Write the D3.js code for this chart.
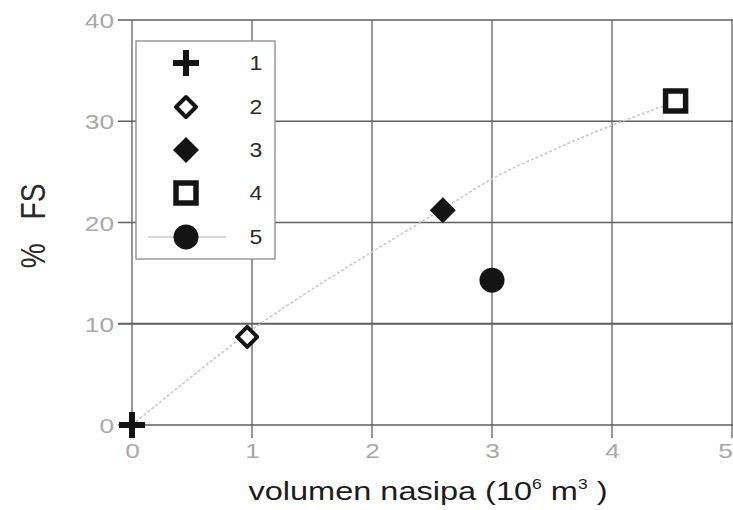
<!DOCTYPE html>
<html>
<head>
<meta charset="utf-8">
<script src="https://cdn.jsdelivr.net/npm/d3@7/dist/d3.min.js"></script>
<style>
  html, body { margin: 0; padding: 0; background: #fff; }
  svg { display: block; font-family: "Liberation Sans", Arial, sans-serif; }
</style>
</head>
<body>
<svg id="chart" width="733" height="510"></svg>
<script>
// Measured points: embankment volume (10^6 m3) vs. % FS
const seriesIds = ["1", "2", "3", "4", "5"];
const volumes   = [0, 0.96, 2.59, 4.53, 3.0];
const fsPercent = [0, 8.7, 21.2, 32.0, 14.3];
const symbolKinds = ["plus", "diamondOpen", "diamondFilled", "squareOpen", "circle"];

// Trend curve through the points
const trendX = [0, 0.5, 1, 1.5, 2, 2.6, 3, 3.5, 4, 4.5];
const trendY = [0, 4.8, 9.4, 13.4, 17.1, 21.4, 24.3, 27.1, 29.6, 31.8];

const xTicks = [0, 1, 2, 3, 4, 5];
const yTicks = [0, 10, 20, 30, 40];

const svg = d3.select("#chart");
const x = d3.scaleLinear().domain([0, 5]).range([132, 732]);
const y = d3.scaleLinear().domain([0, 40]).range([425, 20]);

const gridColor = "#5f5f5f";
const tickColor = "#a8a8a8";
const ink = "#141414";
const wide = 1.25;   // horizontal stretch of the lettering

// Grid
const grid = svg.append("g");
grid.selectAll("line.h").data(yTicks).join("line")
  .attr("x1", x(0) - 14).attr("x2", 733)
  .attr("y1", d => y(d)).attr("y2", d => y(d))
  .attr("stroke", gridColor).attr("stroke-width", d => d === 10 ? 1.8 : 1.3);
grid.selectAll("line.v").data(xTicks).join("line")
  .attr("x1", d => x(d)).attr("x2", d => x(d))
  .attr("y1", y(40)).attr("y2", y(0) + 13)
  .attr("stroke", gridColor).attr("stroke-width", 1.3);

// Axes (labels only, lines come from the grid)
const yAxis = d3.axisLeft(y).tickValues(yTicks).tickSize(0).tickPadding(18)
  .tickFormat(d3.format("d"));
svg.append("g").attr("transform", `translate(${x(0)},0)`).call(yAxis)
  .call(g => g.select(".domain").remove())
  .call(g => g.selectAll("text").attr("fill", tickColor).attr("font-size", 21)
    .attr("font-family", "Liberation Sans, Arial, sans-serif").attr("dy", "0.36em")
    .attr("x", -18 / wide).attr("transform", `scale(${wide},1)`));

const xAxis = d3.axisBottom(x).tickValues(xTicks).tickSize(0).tickPadding(18)
  .tickFormat(d3.format("d"));
svg.append("g").attr("transform", `translate(0,${y(0)})`).call(xAxis)
  .call(g => g.select(".domain").remove())
  .call(g => g.selectAll("text").attr("fill", tickColor).attr("font-size", 21)
    .attr("font-family", "Liberation Sans, Arial, sans-serif")
    .attr("transform", `scale(${wide},1)`)
    .attr("x", d => d === 5 ? -7 / wide : 0));

// Trend line
const line = d3.line().x(d => x(d[0])).y(d => y(d[1])).curve(d3.curveMonotoneX);
svg.append("path")
  .datum(trendX.map((v, i) => [v, trendY[i]]))
  .attr("d", line)
  .attr("fill", "none").attr("stroke", "#c8c8c8")
  .attr("stroke-width", 1.6).attr("stroke-dasharray", "3 2");

// Marker drawing
function drawSymbol(g, kind, cx, cy) {
  if (kind === "plus") {
    g.append("path")
      .attr("d", `M${cx - 13},${cy}H${cx + 13}M${cx},${cy - 13}V${cy + 13}`)
      .attr("stroke", ink).attr("stroke-width", 6).attr("fill", "none");
  } else if (kind === "diamondOpen") {
    g.append("path")
      .attr("d", `M${cx},${cy - 10}L${cx + 10},${cy}L${cx},${cy + 10}L${cx - 10},${cy}Z`)
      .attr("stroke", ink).attr("stroke-width", 4).attr("fill", "#fff")
      .attr("stroke-linejoin", "round");
  } else if (kind === "diamondFilled") {
    g.append("path")
      .attr("d", `M${cx},${cy - 13}L${cx + 13},${cy}L${cx},${cy + 13}L${cx - 13},${cy}Z`)
      .attr("fill", ink);
  } else if (kind === "squareOpen") {
    g.append("rect")
      .attr("x", cx - 10).attr("y", cy - 10).attr("width", 20).attr("height", 20)
      .attr("stroke", ink).attr("stroke-width", 5.5).attr("fill", "#fff");
  } else if (kind === "circle") {
    g.append("circle").attr("cx", cx).attr("cy", cy).attr("r", 12.5).attr("fill", ink);
  }
}

// Legend
const legend = svg.append("g");
legend.append("rect")
  .attr("x", 136).attr("y", 41).attr("width", 139).attr("height", 218)
  .attr("fill", "#fff").attr("stroke", "#8a8a8a").attr("stroke-width", 1.3);
const rowY = [63, 107, 150, 193, 237];
legend.append("line")
  .attr("x1", 148).attr("x2", 226).attr("y1", rowY[4]).attr("y2", rowY[4])
  .attr("stroke", "#c8c8c8").attr("stroke-width", 1.6);
seriesIds.forEach((id, i) => {
  drawSymbol(legend, symbolKinds[i], 186, rowY[i]);
  legend.append("text")
    .attr("transform", `translate(256,${rowY[i]}) scale(1.15,1)`)
    .attr("dy", "0.36em")
    .attr("text-anchor", "middle").attr("font-size", 20).attr("fill", "#2a2a2a")
    .text(id);
});

// Data markers
const marks = svg.append("g");
seriesIds.forEach((id, i) => {
  drawSymbol(marks, symbolKinds[i], x(volumes[i]), y(fsPercent[i]));
});

// Axis titles
const xt = svg.append("text")
  .attr("transform", `translate(428,500) scale(${wide},1)`)
  .attr("text-anchor", "middle")
  .attr("font-size", 26).attr("fill", "#1c1c1c");
xt.append("tspan").text("volumen nasipa (10");
xt.append("tspan").attr("font-size", 14).attr("dy", -11).text("6");
xt.append("tspan").attr("dy", 11).text(" m");
xt.append("tspan").attr("font-size", 14).attr("dy", -11).text("3");
xt.append("tspan").attr("dy", 11).text(" )");

// Y title: "%" and "FS" with a wide gap between them
const yt = svg.append("text")
  .attr("transform", `translate(45,226) rotate(-90) scale(1,${wide})`)
  .attr("text-anchor", "middle").attr("font-size", 28).attr("fill", "#2a2a2a");
yt.append("tspan").text("%");
yt.append("tspan").attr("dx", 24).text("FS");
</script>
</body>
</html>
